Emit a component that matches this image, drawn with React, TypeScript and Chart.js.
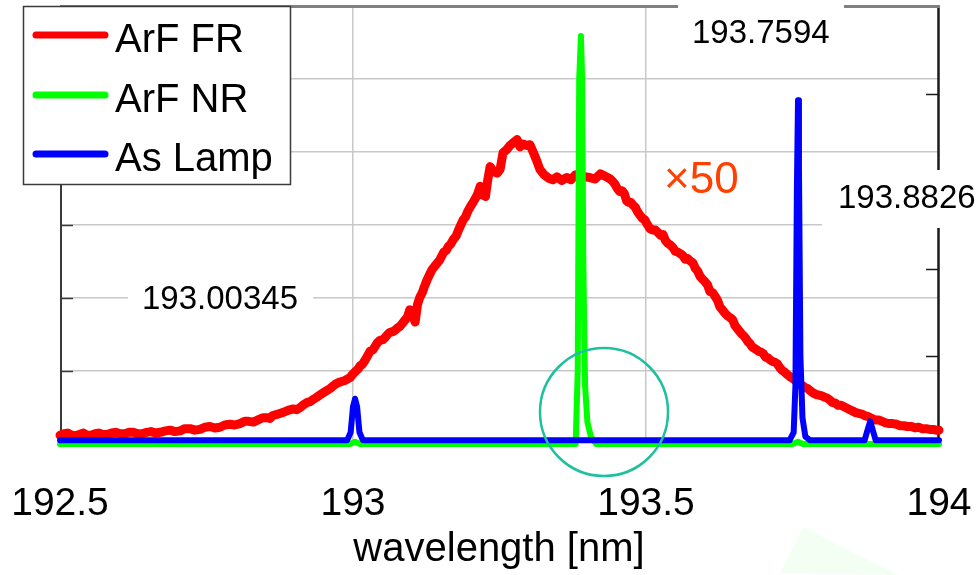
import React, { useEffect, useRef } from 'react';
import { Chart, registerables } from 'chart.js';

Chart.register(...registerables);

// ---------- data ----------
const seriesNames = ['ArF FR', 'ArF NR', 'As Lamp'];

const redX = [
  192.500, 192.507, 192.513, 192.520, 192.526, 192.533, 192.540, 192.546, 192.553, 192.560,
  192.566, 192.573, 192.580, 192.588, 192.595, 192.603, 192.610, 192.618, 192.625, 192.633,
  192.640, 192.648, 192.655, 192.663, 192.671, 192.680, 192.688, 192.696, 192.705, 192.713,
  192.722, 192.730, 192.739, 192.747, 192.756, 192.764, 192.773, 192.781, 192.790, 192.798,
  192.807, 192.815, 192.822, 192.830, 192.838, 192.846, 192.853, 192.858, 192.863, 192.872,
  192.880, 192.889, 192.898, 192.904, 192.910, 192.916, 192.922, 192.927, 192.932, 192.938,
  192.945, 192.953, 192.961, 192.970, 192.978, 192.986, 192.995, 193.000, 193.005, 193.009,
  193.012, 193.016, 193.020, 193.025, 193.029, 193.034, 193.038, 193.042, 193.046, 193.051,
  193.055, 193.059, 193.063, 193.068, 193.072, 193.076, 193.080, 193.084, 193.088, 193.093,
  193.097, 193.102, 193.106, 193.110, 193.114, 193.118, 193.122, 193.126, 193.130, 193.135,
  193.142, 193.148, 193.155, 193.159, 193.163, 193.167, 193.171, 193.176, 193.180, 193.184,
  193.188, 193.192, 193.196, 193.201, 193.205, 193.212, 193.217, 193.222, 193.226, 193.230,
  193.234, 193.240, 193.246, 193.251, 193.256, 193.262, 193.268, 193.274, 193.280, 193.285,
  193.290, 193.296, 193.302, 193.308, 193.313, 193.319, 193.326, 193.334, 193.341, 193.348,
  193.356, 193.365, 193.372, 193.380, 193.387, 193.395, 193.404, 193.413, 193.422, 193.430,
  193.439, 193.443, 193.447, 193.451, 193.455, 193.459, 193.463, 193.467, 193.470, 193.474,
  193.478, 193.482, 193.485, 193.490, 193.494, 193.498, 193.502, 193.507, 193.512, 193.516,
  193.520, 193.525, 193.529, 193.533, 193.537, 193.541, 193.546, 193.550, 193.554, 193.558,
  193.563, 193.567, 193.571, 193.575, 193.580, 193.584, 193.588, 193.592, 193.596, 193.600,
  193.605, 193.609, 193.614, 193.618, 193.622, 193.626, 193.631, 193.635, 193.640, 193.644,
  193.648, 193.652, 193.655, 193.659, 193.663, 193.667, 193.670, 193.674, 193.677, 193.681,
  193.685, 193.689, 193.692, 193.696, 193.700, 193.704, 193.708, 193.712, 193.716, 193.720,
  193.724, 193.728, 193.732, 193.736, 193.740, 193.746, 193.750, 193.755, 193.760, 193.765,
  193.772, 193.776, 193.780, 193.785, 193.790, 193.795, 193.800, 193.805, 193.809, 193.814,
  193.818, 193.823, 193.828, 193.833, 193.838, 193.843, 193.848, 193.853, 193.858, 193.863,
  193.868, 193.873, 193.878, 193.885, 193.891, 193.897, 193.903, 193.909, 193.915, 193.921,
  193.928, 193.934, 193.940, 193.946, 193.953, 193.959, 193.965, 193.971, 193.978, 193.984,
  193.990, 193.995, 194.000,
];
const redY = [
  0.12, 0.14, 0.15, 0.12, 0.11, 0.13, 0.15, 0.12, 0.12, 0.14,
  0.15, 0.13, 0.13, 0.15, 0.16, 0.14, 0.14, 0.16, 0.16, 0.14,
  0.14, 0.16, 0.17, 0.15, 0.16, 0.18, 0.19, 0.17, 0.18, 0.21,
  0.21, 0.19, 0.20, 0.23, 0.24, 0.22, 0.23, 0.26, 0.27, 0.26,
  0.28, 0.31, 0.31, 0.30, 0.33, 0.36, 0.36, 0.35, 0.39, 0.41,
  0.43, 0.46, 0.48, 0.47, 0.50, 0.54, 0.57, 0.58, 0.61, 0.64,
  0.68, 0.72, 0.76, 0.82, 0.85, 0.87, 0.91, 0.96, 1.00, 1.03,
  1.07, 1.09, 1.14, 1.21, 1.27, 1.29, 1.34, 1.39, 1.42, 1.43,
  1.46, 1.50, 1.53, 1.54, 1.56, 1.59, 1.61, 1.65, 1.69, 1.74,
  1.84, 1.76, 1.67, 1.91, 2.01, 2.07, 2.16, 2.24, 2.31, 2.39,
  2.46, 2.52, 2.63, 2.65, 2.71, 2.74, 2.80, 2.85, 2.93, 3.00,
  3.07, 3.11, 3.19, 3.26, 3.31, 3.41, 3.53, 3.41, 3.39, 3.62,
  3.80, 3.73, 3.71, 3.76, 3.99, 4.03, 4.09, 4.13, 4.17, 4.07,
  4.11, 4.09, 4.10, 3.99, 3.89, 3.76, 3.69, 3.64, 3.62, 3.66,
  3.61, 3.65, 3.62, 3.69, 3.64, 3.66, 3.65, 3.63, 3.70, 3.67,
  3.63, 3.60, 3.56, 3.50, 3.46, 3.47, 3.43, 3.33, 3.31, 3.31,
  3.27, 3.24, 3.19, 3.13, 3.09, 3.07, 3.01, 2.95, 2.93, 2.93,
  2.90, 2.86, 2.87, 2.79, 2.75, 2.73, 2.69, 2.64, 2.63, 2.61,
  2.58, 2.53, 2.54, 2.51, 2.48, 2.41, 2.37, 2.30, 2.26, 2.23,
  2.18, 2.09, 2.07, 2.02, 1.97, 1.88, 1.83, 1.79, 1.75, 1.73,
  1.70, 1.62, 1.59, 1.55, 1.51, 1.48, 1.45, 1.40, 1.38, 1.33,
  1.31, 1.29, 1.27, 1.26, 1.24, 1.19, 1.18, 1.15, 1.13, 1.12,
  1.10, 1.05, 1.01, 0.99, 0.96, 0.92, 0.90, 0.87, 0.83, 0.81,
  0.77, 0.76, 0.73, 0.70, 0.68, 0.67, 0.66, 0.64, 0.63, 0.60,
  0.57, 0.56, 0.53, 0.53, 0.51, 0.49, 0.47, 0.45, 0.43, 0.42,
  0.41, 0.39, 0.38, 0.35, 0.33, 0.33, 0.31, 0.29, 0.28, 0.28,
  0.27, 0.25, 0.25, 0.24, 0.24, 0.22, 0.23, 0.21, 0.21, 0.20,
  0.20, 0.19, 0.19,
];

const greenX = [
  192.500, 192.995, 193.0035, 193.012, 193.380, 193.3835, 193.386, 193.389, 193.391, 193.393,
  193.396, 193.400, 193.406, 193.415, 193.750, 193.7594, 193.768, 194.000,
];
const greenY = [
  0.00, 0.00, 0.03, 0.00, 0.00, 1.00, 5.00, 5.59, 5.00, 2.50,
  0.80, 0.30, 0.10, 0.00, 0.00, 0.03, 0.00, 0.00,
];

const blueX = [
  192.500, 192.990, 192.996, 193.000, 193.0035, 193.007, 193.011, 193.017, 193.745, 193.752,
  193.755, 193.7575, 193.7594, 193.761, 193.7635, 193.767, 193.772, 193.780, 193.873, 193.878,
  193.8826, 193.887, 193.892, 194.000,
];
const blueY = [
  0.05, 0.05, 0.16, 0.51, 0.62, 0.51, 0.16, 0.05, 0.05, 0.16,
  0.80, 3.50, 4.71, 3.80, 1.20, 0.36, 0.10, 0.05, 0.05, 0.19,
  0.31, 0.19, 0.05, 0.05,
];

const xTickValues = [192.5, 193, 193.5, 194];
const xTickLabels = ['192.5', '193', '193.5', '194'];
const xTitle = 'wavelength [nm]';
const peakLabels = ['193.00345', '193.7594', '193.8826'];
const gainLabel = '×50';

const FONT = '"Liberation Sans", Arial, sans-serif';

const toPts = (xs: number[], ys: number[]) => xs.map((x, i) => ({ x, y: ys[i] }));

const overlay = {
  id: 'overlay',
  beforeDatasetsDraw(chart: any) {
    const { ctx, chartArea: ca, scales } = chart;
    const y = scales.y;
    const y2 = scales.y2;
    ctx.save();
    // left axis
    ctx.strokeStyle = '#3a3a3a';
    ctx.lineWidth = 2;
    ctx.beginPath();
    ctx.moveTo(ca.left + 1, ca.top);
    ctx.lineTo(ca.left + 1, ca.bottom);
    ctx.stroke();
    // left inward ticks
    ctx.lineWidth = 1.5;
    for (let v = 1; v <= 5; v++) {
      const py = Math.round(y.getPixelForValue(v)) + 0.5;
      ctx.beginPath();
      ctx.moveTo(ca.left + 1, py);
      ctx.lineTo(ca.left + 13, py);
      ctx.stroke();
    }
    // right axis
    ctx.strokeStyle = '#1a1a1a';
    ctx.lineWidth = 2.5;
    ctx.beginPath();
    ctx.moveTo(ca.right - 0.5, ca.top);
    ctx.lineTo(ca.right - 0.5, ca.bottom);
    ctx.stroke();
    ctx.lineWidth = 1.5;
    for (let v = 1; v <= 4; v++) {
      const py = Math.round(y2.getPixelForValue(v)) + 0.5;
      ctx.beginPath();
      ctx.moveTo(ca.right - 13, py);
      ctx.lineTo(ca.right - 1, py);
      ctx.stroke();
    }
    // top border
    ctx.strokeStyle = '#808080';
    ctx.lineWidth = 3;
    ctx.beginPath();
    ctx.moveTo(ca.left, ca.top + 0.5);
    ctx.lineTo(ca.right + 1, ca.top + 0.5);
    ctx.stroke();

    // white label boxes
    ctx.fillStyle = '#ffffff';
    ctx.fillRect(128, 275, 185, 46);
    ctx.fillRect(678, 0, 166, 62);
    ctx.fillRect(822, 170, 156, 58);

    ctx.fillStyle = '#000000';
    ctx.font = `33px ${FONT}`;
    ctx.textAlign = 'left';
    ctx.textBaseline = 'alphabetic';
    ctx.fillText(peakLabels[0], 142, 309);
    ctx.fillText(peakLabels[1], 692, 43);
    ctx.fillText(peakLabels[2], 838, 208);
    ctx.restore();
  },
  afterDraw(chart: any) {
    const { ctx, scales } = chart;
    const x = scales.x;
    ctx.save();
    // x tick labels
    ctx.fillStyle = '#000000';
    ctx.font = `39px ${FONT}`;
    ctx.textAlign = 'center';
    ctx.textBaseline = 'alphabetic';
    xTickValues.forEach((v, i) => {
      ctx.fillText(xTickLabels[i], x.getPixelForValue(v), 515);
    });
    // axis title
    ctx.font = `40px ${FONT}`;
    ctx.fillText(xTitle, 499, 561);

    // gain label
    ctx.fillStyle = '#ff4000';
    ctx.font = `44px ${FONT}`;
    ctx.textAlign = 'left';
    ctx.fillText(gainLabel, 664, 193);

    // circle
    ctx.strokeStyle = '#1fbf9f';
    ctx.lineWidth = 2.5;
    ctx.beginPath();
    ctx.arc(604, 412, 64, 0, Math.PI * 2);
    ctx.stroke();

    // faint watermark
    ctx.fillStyle = '#f2fff2';
    ctx.beginPath();
    ctx.moveTo(780, 573);
    ctx.lineTo(803, 527);
    ctx.lineTo(898, 575);
    ctx.closePath();
    ctx.fill();

    // legend
    ctx.fillStyle = '#ffffff';
    ctx.fillRect(23, 6, 268, 179);
    ctx.strokeStyle = '#3a3a3a';
    ctx.lineWidth = 1.5;
    ctx.strokeRect(23.5, 6.5, 267, 178);
    const colors = ['#ff0000', '#00ff00', '#0000ff'];
    const rows = [35, 95, 154];
    ctx.lineCap = 'round';
    ctx.font = `40px ${FONT}`;
    seriesNames.forEach((name, i) => {
      ctx.strokeStyle = colors[i];
      ctx.lineWidth = 7;
      ctx.beginPath();
      ctx.moveTo(36, rows[i]);
      ctx.lineTo(105, rows[i]);
      ctx.stroke();
      ctx.fillStyle = '#000000';
      ctx.fillText(name, 115, rows[i] + 17);
    });
    ctx.restore();
  },
};

export default function App() {
  const ref = useRef<HTMLCanvasElement>(null);
  useEffect(() => {
    const canvas = ref.current;
    if (!canvas) return;
    const gridColorX = (c: any) =>
      c.tick && (c.tick.value === 193 || c.tick.value === 193.5) ? '#c8c8c8' : 'rgba(0,0,0,0)';
    const gridColorY = (c: any) =>
      c.tick && c.tick.value > 0 && c.tick.value < 6 ? '#c8c8c8' : 'rgba(0,0,0,0)';
    const chart = new Chart(canvas, {
      type: 'line',
      data: {
        datasets: [
          { label: seriesNames[2], data: toPts(blueX, blueY), borderColor: '#0000ff', borderWidth: 6, order: 1, clip: false },
          { label: seriesNames[1], data: toPts(greenX, greenY), borderColor: '#00ff00', borderWidth: 6, order: 2, clip: false },
          { label: seriesNames[0], data: toPts(redX, redY), borderColor: '#ff0000', borderWidth: 9, order: 3, clip: false },
        ],
      } as any,
      options: {
        responsive: false,
        animation: false,
        layout: { padding: { left: 0, right: 39, top: 6, bottom: 0 } },
        elements: {
          point: { radius: 0 },
          line: { tension: 0, borderCapStyle: 'round', borderJoinStyle: 'round' },
        },
        plugins: { legend: { display: false }, tooltip: { enabled: false } },
        scales: {
          x: {
            type: 'linear',
            min: 192.5,
            max: 194,
            ticks: { display: false, stepSize: 0.5 },
            grid: { color: gridColorX, lineWidth: 1.5, drawTicks: false },
            border: { display: false },
            afterFit: (s: any) => { s.height = 131; },
          },
          y: {
            type: 'linear',
            min: 0,
            max: 6,
            ticks: { display: false, stepSize: 1 },
            grid: { color: gridColorY, lineWidth: 1.5, drawTicks: false },
            border: { display: false },
            afterFit: (s: any) => { s.width = 60; },
          },
          y2: {
            type: 'linear',
            position: 'right',
            min: 0,
            max: 5,
            display: false,
          },
        },
      } as any,
      plugins: [overlay],
    });
    return () => chart.destroy();
  }, []);
  return (
    <div style={{ position: 'absolute', left: 0, top: 0, width: 978, height: 575, background: '#fff' }}>
      <canvas ref={ref} width={978} height={575} style={{ display: 'block', width: 978, height: 575 }} />
    </div>
  );
}
